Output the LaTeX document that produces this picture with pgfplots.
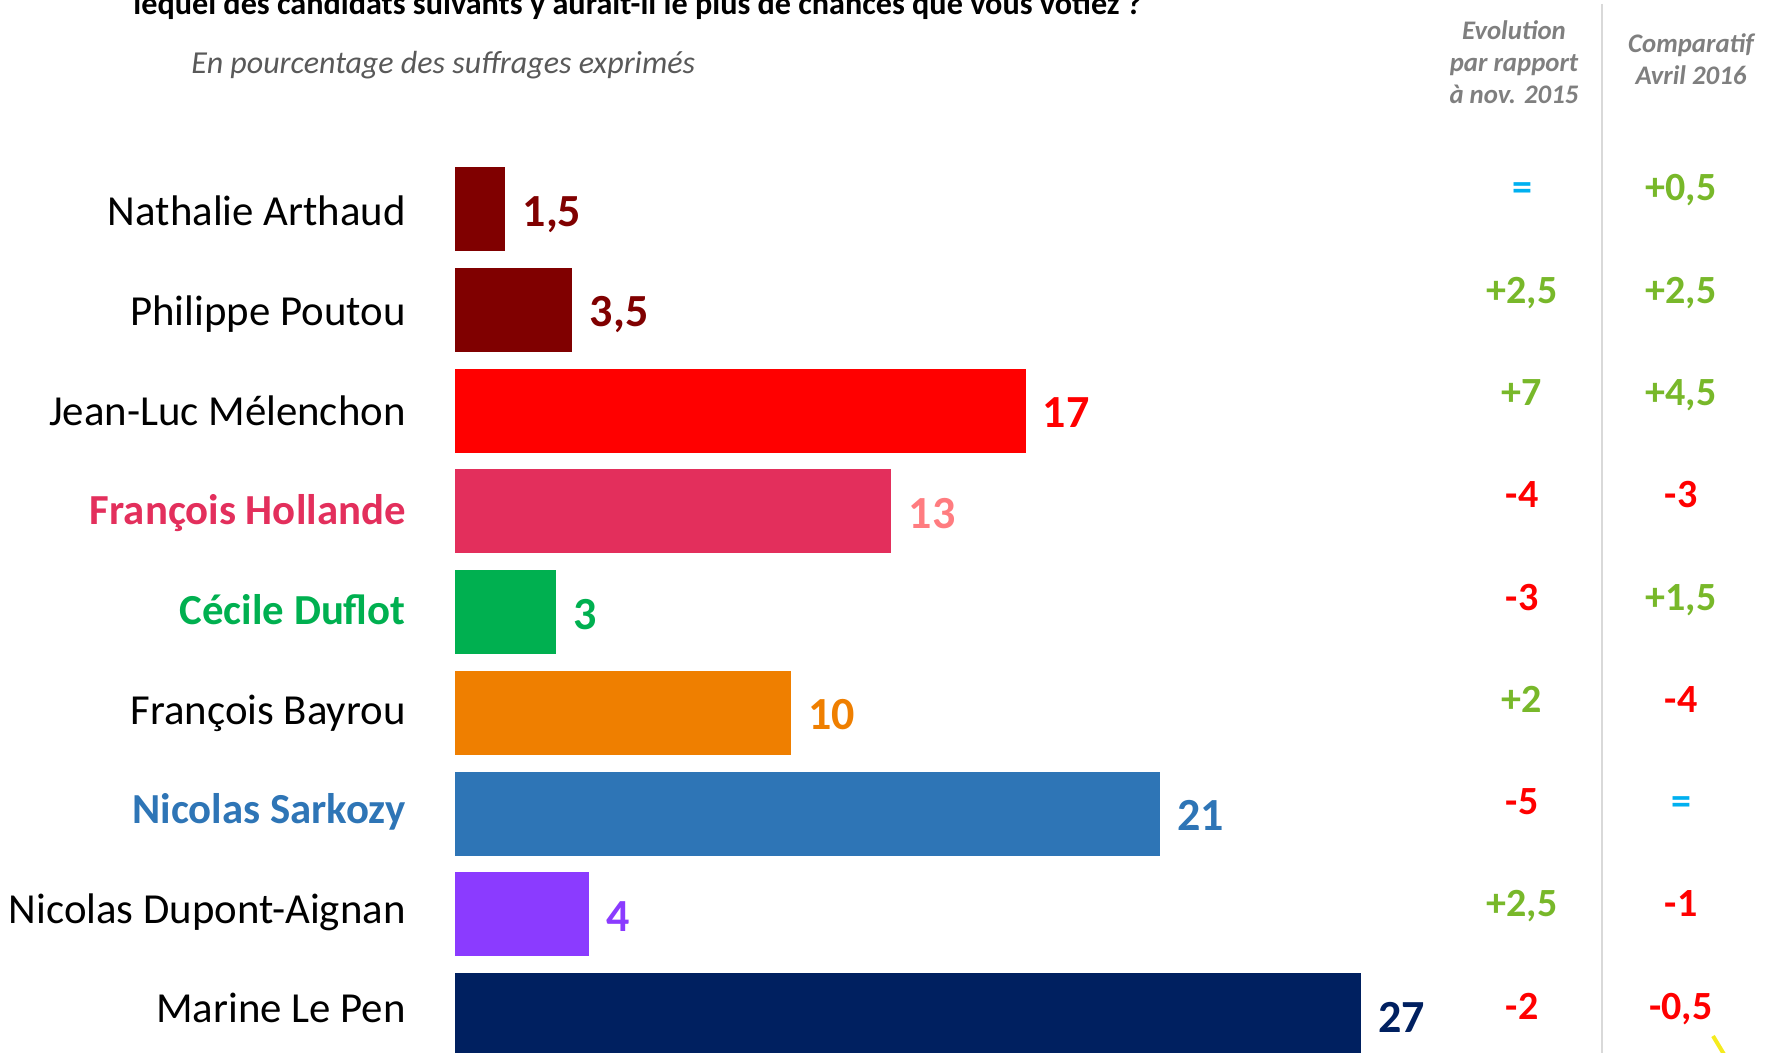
\documentclass[border=0pt]{standalone}
\usepackage{pgfplots}
\pgfplotsset{compat=1.18}
\usepackage{fontspec}
\setmainfont{Carlito}

\definecolor{cMaroon}{HTML}{800000}
\definecolor{cRed}{HTML}{FF0000}
\definecolor{cPink}{HTML}{E32F5C}
\definecolor{cSalmon}{HTML}{FF7C80}
\definecolor{cGreen}{HTML}{00B050}
\definecolor{cOrange}{HTML}{EF7F00}
\definecolor{cBlue}{HTML}{2E75B6}
\definecolor{cPurple}{HTML}{8B3BFF}
\definecolor{cNavy}{HTML}{002060}
\definecolor{upGreen}{HTML}{78B82A}
\definecolor{eqBlue}{HTML}{00B0F0}
\definecolor{subGrey}{HTML}{595959}
\definecolor{headGrey}{HTML}{7F7F7F}
\definecolor{cYellow}{HTML}{F5EB1E}

% fonts, sizes in pt (1 px of the reference = 0.5pt)
\newcommand{\namefont}{\fontsize{21.4}{21.4}\selectfont}
\newcommand{\valfont}{\fontsize{20}{20}\selectfont\bfseries}
\newcommand{\headfont}{\fontsize{13.4}{13.4}\selectfont\bfseries\itshape}

\begin{document}
\begin{tikzpicture}
\useasboundingbox (0pt,0pt) rectangle (885.5pt,-526.5pt);
\clip (0pt,0pt) rectangle (885.5pt,-526.5pt);

\begin{axis}[
  at={(0pt,0pt)}, anchor=north west,
  scale only axis,
  width=885.5pt, height=526.5pt,
  xmin=-13.558, xmax=39.214,
  ymin=-2.0744, ymax=8.377,
  y dir=reverse,
  hide axis,
  clip=true,
  xbar, bar width=42pt, bar shift=0pt,
  nodes near coords,
  point meta=explicit symbolic,
  every node near coord/.append style={anchor=base west, inner sep=0pt,
    xshift=8.5pt, yshift=-8.5pt, font=\fontsize{23}{23}\selectfont\bfseries},
]
\addplot[draw=none, fill=cMaroon, every node near coord/.append style={text=cMaroon}]
  coordinates {(1.5,0) [1,5]};
\addplot[draw=none, fill=cMaroon, every node near coord/.append style={text=cMaroon}]
  coordinates {(3.5,1) [3,5]};
\addplot[draw=none, fill=cRed, every node near coord/.append style={text=cRed}]
  coordinates {(17,2) [17]};
\addplot[draw=none, fill=cPink, every node near coord/.append style={text=cSalmon}]
  coordinates {(13,3) [13]};
\addplot[draw=none, fill=cGreen, every node near coord/.append style={text=cGreen}]
  coordinates {(3,4) [3]};
\addplot[draw=none, fill=cOrange, every node near coord/.append style={text=cOrange}]
  coordinates {(10,5) [10]};
\addplot[draw=none, fill=cBlue, every node near coord/.append style={text=cBlue}]
  coordinates {(21,6) [21]};
\addplot[draw=none, fill=cPurple, every node near coord/.append style={text=cPurple}]
  coordinates {(4,7) [4]};
\addplot[draw=none, fill=cNavy, every node near coord/.append style={text=cNavy}]
  coordinates {(27,8) [27]};
\end{axis}

\begin{scope}[x=0.5pt, y=-0.5pt]
  % title (cut by the top edge, as in the source) and subtitle
  \node[inner sep=0pt, anchor=base west, font=\fontsize{16.1}{16.1}\selectfont\bfseries]
    at (133,15) {lequel des candidats suivants y aurait-il le plus de chances que vous votiez ?};
  \node[inner sep=0pt, anchor=base west, font=\fontsize{16}{16}\selectfont\itshape, text=subGrey]
    at (191,74) {En pourcentage des suffrages exprimés};

  % candidate names
  \node[inner sep=0pt, anchor=base east, font=\namefont] at (406,226) {Nathalie Arthaud};
  \node[inner sep=0pt, anchor=base east, font=\namefont] at (406,325.6) {Philippe Poutou};
  \node[inner sep=0pt, anchor=base east, font=\namefont] at (406,425.2) {Jean-Luc Mélenchon};
  \node[inner sep=0pt, anchor=base east, font=\namefont\bfseries, text=cPink] at (406,524.8) {François Hollande};
  \node[inner sep=0pt, anchor=base east, font=\namefont\bfseries, text=cGreen] at (406,624.4) {Cécile Duflot};
  \node[inner sep=0pt, anchor=base east, font=\namefont] at (406,724) {François Bayrou};
  \node[inner sep=0pt, anchor=base east, font=\namefont\bfseries, text=cBlue] at (406,823.6) {Nicolas Sarkozy};
  \node[inner sep=0pt, anchor=base east, font=\namefont] at (406,923.2) {Nicolas Dupont-Aignan};
  \node[inner sep=0pt, anchor=base east, font=\namefont] at (406,1022.8) {Marine Le Pen};

  % column headers
  \draw[color=black!15, line width=1pt] (1602,4) -- (1602,1060);
  \node[inner sep=0pt, anchor=base, font=\headfont, text=headGrey] at (1514,40) {Evolution};
  \node[inner sep=0pt, anchor=base, font=\headfont, text=headGrey] at (1514,72) {par rapport};
  \node[inner sep=0pt, anchor=base, font=\headfont, text=headGrey] at (1514,104) {à nov. 2015};
  \node[inner sep=0pt, anchor=base, font=\headfont, text=headGrey] at (1691,53) {Comparatif};
  \node[inner sep=0pt, anchor=base, font=\headfont, text=headGrey] at (1691,85) {Avril 2016};

  % evolution vs nov. 2015
  \node[inner sep=0pt, anchor=base, font=\valfont, text=eqBlue]  at (1522,201) {=};
  \node[inner sep=0pt, anchor=base, font=\valfont, text=upGreen] at (1522,303.25) {+2,5};
  \node[inner sep=0pt, anchor=base, font=\valfont, text=upGreen] at (1522,405.5) {+7};
  \node[inner sep=0pt, anchor=base, font=\valfont, text=cRed]    at (1522,507.75) {-4};
  \node[inner sep=0pt, anchor=base, font=\valfont, text=cRed]    at (1522,610) {-3};
  \node[inner sep=0pt, anchor=base, font=\valfont, text=upGreen] at (1522,712.25) {+2};
  \node[inner sep=0pt, anchor=base, font=\valfont, text=cRed]    at (1522,814.5) {-5};
  \node[inner sep=0pt, anchor=base, font=\valfont, text=upGreen] at (1522,916.75) {+2,5};
  \node[inner sep=0pt, anchor=base, font=\valfont, text=cRed]    at (1522,1019) {-2};

  % comparison with April 2016
  \node[inner sep=0pt, anchor=base, font=\valfont, text=upGreen] at (1681,201) {+0,5};
  \node[inner sep=0pt, anchor=base, font=\valfont, text=upGreen] at (1681,303.25) {+2,5};
  \node[inner sep=0pt, anchor=base, font=\valfont, text=upGreen] at (1681,405.5) {+4,5};
  \node[inner sep=0pt, anchor=base, font=\valfont, text=cRed]    at (1681,507.75) {-3};
  \node[inner sep=0pt, anchor=base, font=\valfont, text=upGreen] at (1681,610) {+1,5};
  \node[inner sep=0pt, anchor=base, font=\valfont, text=cRed]    at (1681,712.25) {-4};
  \node[inner sep=0pt, anchor=base, font=\valfont, text=eqBlue]  at (1681,814.5) {=};
  \node[inner sep=0pt, anchor=base, font=\valfont, text=cRed]    at (1681,916.75) {-1};
  \node[inner sep=0pt, anchor=base, font=\valfont, text=cRed]    at (1681,1019) {-0,5};

  % small yellow stroke in the corner
  \draw[color=cYellow, line width=2pt] (1713,1036) -- (1725,1056);
\end{scope}
\end{tikzpicture}
\end{document}
